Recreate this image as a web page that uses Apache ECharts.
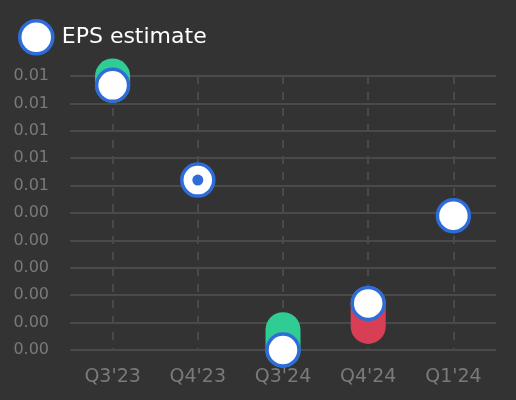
<!DOCTYPE html>
<html lang="en">
<head>
  <meta charset="UTF-8">
  <title>EPS estimate</title>
  <script src="https://cdn.jsdelivr.net/npm/echarts@6.0.0/dist/echarts.min.js"></script>
  <style>
    html, body { margin: 0; padding: 0; background: #333333; }
  </style>
</head>
<body>
  <div id="main" style="width: 516px;height:400px;"></div>
  <script type="text/javascript">
    // Quarters, estimates and reported values
    var categories = ["Q3'23", "Q4'23", "Q3'24", "Q4'24", "Q1'24"];
    var epsEstimate = [0.00683, 0.0051, 0.0020, 0.00285, 0.00445];
    var epsActual = [0.0070, 0.0051, 0.00237, 0.00243, null];

    var blue = '#2e6cd8';
    var green = '#2fcc93';
    var red = '#d83f55';

    var myChart = echarts.init(document.getElementById('main'));

    // points where the actual matched the estimate get a small dot
    var matched = epsActual.map(function (v, i) {
      return v !== null && v === epsEstimate[i] ? v : null;
    });

    var rangeData = categories.map(function (c, i) {
      return [i, epsEstimate[i], epsActual[i]];
    });

    var option = {
      backgroundColor: '#333333',
      textStyle: { fontFamily: 'DejaVu Sans' },
      legend: {
        data: ['EPS estimate'],
        left: 13,
        top: 14,
        itemWidth: 33,
        itemHeight: 33,
        icon: 'circle',
        itemStyle: { color: '#ffffff', borderColor: blue, borderWidth: 3.5 },
        textStyle: { color: '#ffffff', fontSize: 22, padding: [0, 0, 0, 4] }
      },
      grid: { left: 70, right: 20, top: 76, bottom: 50 },
      xAxis: {
        type: 'category',
        data: categories,
        axisLine: { show: false },
        axisTick: { show: false },
        axisLabel: { color: '#7a7a7a', fontSize: 19, margin: 18 },
        splitLine: {
          show: true,
          alignWithLabel: true,
          lineStyle: { color: '#4a4a4a', type: [8, 8], width: 2 }
        }
      },
      yAxis: {
        type: 'value',
        min: 0.002,
        max: 0.007,
        interval: 0.0005,
        axisLine: { show: false },
        axisTick: { show: false },
        axisLabel: {
          color: '#7a7a7a',
          fontSize: 16,
          margin: 21,
          formatter: function (v) { return v.toFixed(2); }
        },
        splitLine: { lineStyle: { color: '#4a4a4a', width: 2 } }
      },
      series: [
        {
          name: 'EPS actual',
          type: 'custom',
          data: rangeData,
          z: 2,
          renderItem: function (params, api) {
            var act = api.value(2);
            if (act === null || isNaN(act)) return;
            var est = api.value(1);
            var p1 = api.coord([api.value(0), est]);
            var p2 = api.coord([api.value(0), act]);
            return {
              type: 'line',
              shape: { x1: p1[0], y1: p1[1], x2: p2[0], y2: p2[1] },
              style: {
                stroke: act >= est ? green : red,
                lineWidth: 35,
                lineCap: 'round'
              }
            };
          }
        },
        {
          name: 'EPS estimate',
          type: 'scatter',
          data: epsEstimate,
          symbol: 'circle',
          symbolSize: 32,
          z: 3,
          itemStyle: { color: '#ffffff', borderColor: blue, borderWidth: 3.5, opacity: 1 }
        },
        {
          name: 'Matched',
          type: 'scatter',
          data: matched,
          symbolSize: 11,
          z: 4,
          itemStyle: { color: blue, opacity: 1 }
        }
      ]
    };

    myChart.setOption(option);
  </script>
</body>
</html>
